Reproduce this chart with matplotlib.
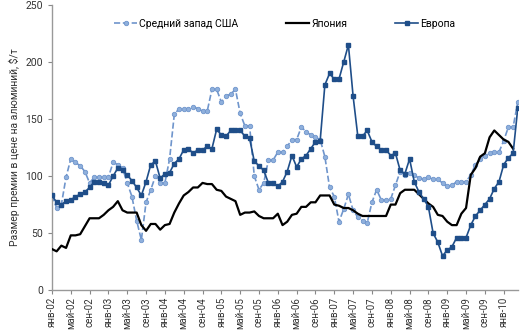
import numpy as np
import matplotlib
matplotlib.use("Agg")
import matplotlib.pyplot as plt

plt.rcParams["font.family"] = ["Roboto", "DejaVu Sans"]

# monthly data, Jan 2002 - Apr 2010
months = ["янв", "фев", "мар", "апр", "май", "июн", "июл", "авг", "сен", "окт", "ноя", "дек"]
labels = [f"{months[i % 12]}-{(2 + i // 12):02d}" for i in range(100)]

midwest = [83, 72, 75, 99, 115, 112, 109, 104, 94, 99, 99, 99, 99, 112, 110, 107, 94, 82, 61, 44,
           77, 88, 100, 94, 94, 115, 154, 159, 159, 159, 161, 159, 157, 157, 176, 176, 165, 170, 172, 176,
           155, 144, 144, 100, 88, 94, 114, 114, 121, 121, 126, 132, 132, 143, 139, 136, 134, 132, 117, 90,
           82, 60, 71, 84, 70, 64, 61, 59, 77, 88, 79, 79, 80, 92, 104, 101, 103, 101, 98, 97,
           99, 97, 97, 94, 91, 92, 95, 95, 95, 101, 110, 115, 118, 120, 121, 121, 131, 143, 143, 165]

japan = [36, 34, 39, 37, 48, 48, 49, 56, 63, 63, 63, 66, 70, 73, 78, 70, 68, 68, 68, 57,
         52, 58, 58, 53, 57, 58, 68, 76, 83, 86, 90, 90, 94, 93, 93, 88, 87, 82, 80, 78,
         66, 68, 68, 69, 65, 63, 63, 63, 67, 57, 60, 66, 67, 73, 73, 77, 77, 83, 83, 83,
         75, 74, 72, 72, 70, 67, 65, 65, 65, 65, 65, 65, 75, 75, 85, 88, 88, 88, 84, 80,
         76, 73, 66, 65, 60, 57, 57, 67, 72, 101, 107, 117, 120, 134, 140, 136, 132, 130, 124, np.nan]

europe = [83, 77, 75, 78, 79, 82, 84, 86, 90, 95, 95, 94, 92, 100, 107, 105, 101, 96, 90, 83,
          95, 110, 113, 98, 102, 103, 111, 115, 123, 124, 120, 123, 123, 126, 124, 141, 136, 135, 140, 140,
          140, 135, 133, 113, 109, 105, 94, 94, 91, 95, 104, 118, 108, 115, 118, 124, 130, 131, 180, 190,
          185, 185, 200, 215, 170, 135, 135, 140, 130, 126, 123, 123, 118, 120, 105, 102, 115, 95, 86, 80,
          73, 50, 42, 30, 35, 38, 46, 46, 46, 57, 65, 70, 75, 80, 89, 95, 110, 116, 120, 160]

x = np.arange(len(labels))

fig = plt.figure(figsize=(5.3, 3.35), dpi=100)
ax = fig.add_axes([0.098, 0.134, 0.879, 0.851])

ax.plot(x, midwest, color="#6f95cc", linestyle="--", linewidth=1.2, marker="o",
        markersize=3.2, markerfacecolor="#8fb0dc", markeredgecolor="#6f95cc",
        markeredgewidth=0.6, label="Средний запад США", zorder=2)
ax.plot(x, japan, color="black", linewidth=1.6, label="Япония", zorder=3)
ax.plot(x, europe, color="#1f4e89", linewidth=1.2, marker="s", markersize=3.2,
        markerfacecolor="#1f4e89", markeredgecolor="#1f4e89", label="Европа", zorder=4)

ax.set_xlim(0, 99)
ax.set_ylim(0, 250)
ax.set_yticks(range(0, 251, 50))
ax.set_xticks(x[::4])
ax.set_xticklabels(labels[::4], rotation=90, fontsize=7, color="#333333")
ax.tick_params(axis="y", labelsize=7.5, colors="#333333", length=3, color="#888888")
ax.tick_params(axis="x", length=3, color="#888888", pad=2)
ax.set_ylabel("Размер премии в цене на алюминий, $/т", fontsize=7.5, color="#333333", labelpad=4)

for side in ["top", "right"]:
    ax.spines[side].set_visible(False)
for side in ["left", "bottom"]:
    ax.spines[side].set_color("#999999")
    ax.spines[side].set_linewidth(1.0)

ax.legend(loc="upper center", bbox_to_anchor=(0.5, 0.985), ncol=3, frameon=False,
          fontsize=7.5, columnspacing=4.6, handlelength=2.2, handletextpad=0.2)

fig.savefig("out.png", dpi=100)
